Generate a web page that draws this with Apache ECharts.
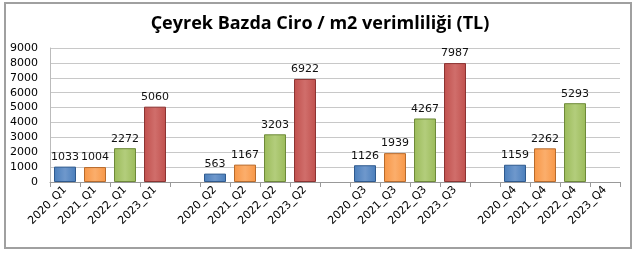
<!DOCTYPE html>
<html><head><meta charset="utf-8">
<script src="https://cdn.jsdelivr.net/npm/echarts@6/dist/echarts.min.js"></script>
<style>html,body{margin:0;padding:0;background:#fff}#c{width:640px;height:253px}</style>
</head><body><div id="c"></div>
<script>
const categories = ['2020_Q1','2021_Q1','2022_Q1','2023_Q1','',
  '2020_Q2','2021_Q2','2022_Q2','2023_Q2','',
  '2020_Q3','2021_Q3','2022_Q3','2023_Q3','',
  '2020_Q4','2021_Q4','2022_Q4','2023_Q4'];
const values = [1033,1004,2272,5060,null,
  563,1167,3203,6922,null,
  1126,1939,4267,7987,null,
  1159,2262,5293,null];
const yearColors = ['#4a7ebb','#f79646','#9bbb59','#c0504d'];
const yearLight = ['#6f98cc','#fbae6c','#b3cd7c','#d06e6b'];
const yearDark = ['#2f5a8e','#b86b2c','#6e8a39','#8c3432'];
const yTicks = [0,1000,2000,3000,4000,5000,6000,7000,8000,9000];

const chart = echarts.init(document.getElementById('c'));
const data = values.map((v, i) => {
  const y = i % 5;
  if (v == null || y > 3) return {value: v};
  return {
    value: v,
    itemStyle: {
      color: new echarts.graphic.LinearGradient(0,0,1,0,[
        {offset:0,color:yearColors[y]},
        {offset:0.5,color:yearLight[y]},
        {offset:1,color:yearColors[y]}
      ]),
      borderColor: yearDark[y], borderWidth: 1
    }
  };
});
chart.setOption({
  animation:false,
  title:{text:'Çeyrek Bazda Ciro / m2 verimliliği (TL)',left:'center',top:10,
    textStyle:{fontFamily:'Open Sans',fontWeight:'bold',fontSize:18,color:'#000'}},
  graphic:[{type:'rect',shape:{x:5,y:3,width:626,height:245},
    style:{fill:'none',stroke:'#a0a0a0',lineWidth:2},silent:true}],
  grid:{left:50,right:20,top:48,bottom:71},
  xAxis:{type:'category',data:categories,
    axisLine:{lineStyle:{color:'#999'}},
    axisTick:{show:true,alignWithLabel:false,lineStyle:{color:'#999'}},
    axisLabel:{interval:0,rotate:45,fontFamily:'DejaVu Sans',fontSize:11,color:'#000',margin:6}},
  yAxis:{type:'value',min:yTicks[0],max:yTicks[yTicks.length-1],interval:1000,
    axisLine:{show:true,lineStyle:{color:'#bbb'}},
    axisTick:{show:false},
    axisLabel:{fontFamily:'DejaVu Sans',fontSize:11,color:'#000',margin:12,formatter:v=>String(v)},
    splitLine:{lineStyle:{color:'#c8c8c8'}}},
  series:[{type:'bar',data:data,barWidth:22,
    label:{show:true,position:'top',distance:4,fontFamily:'DejaVu Sans',fontSize:11,color:'#111'}}]
});
</script></body></html>
